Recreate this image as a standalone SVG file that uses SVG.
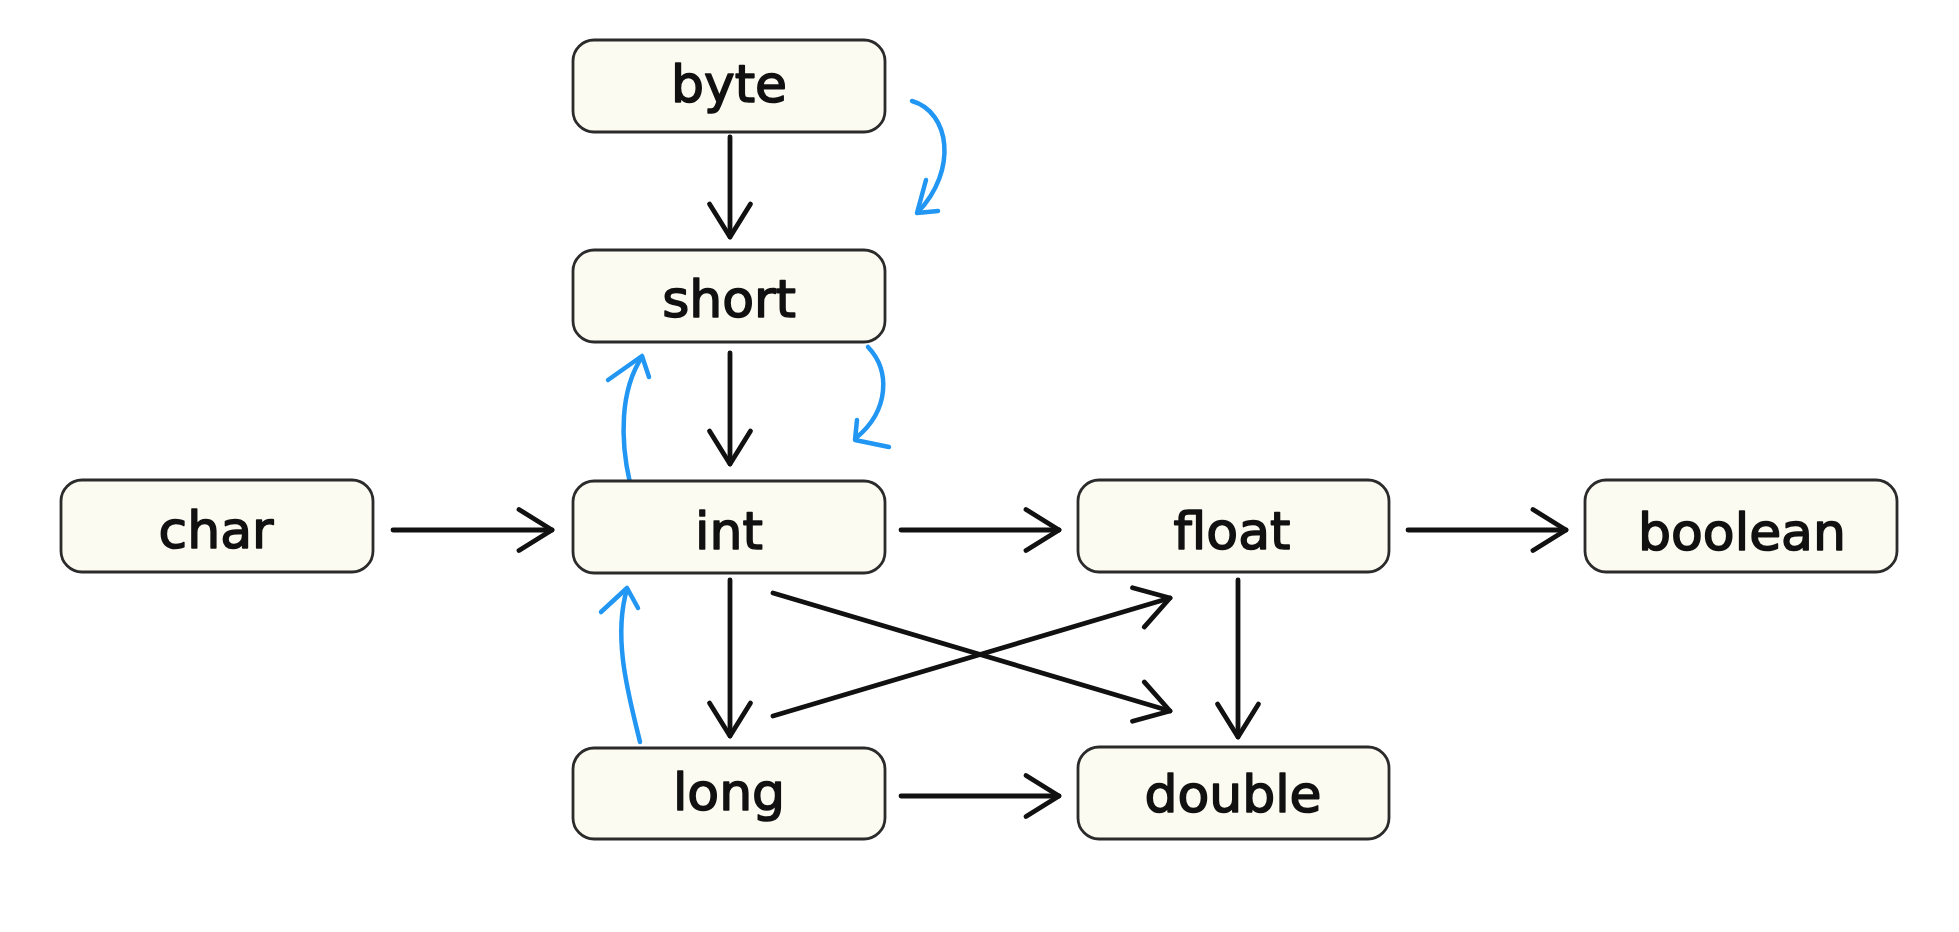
<svg xmlns="http://www.w3.org/2000/svg" width="1959" height="932" viewBox="0 0 1959 932">
  <style>
    .box { fill: #fcfbf1; stroke: #2b2b2b; stroke-width: 2.8; }
    .label { font-family: "DejaVu Sans", "Liberation Sans", sans-serif; font-size: 52px; fill: #111; stroke: #111; stroke-width: 1.6; stroke-linejoin: round; text-anchor: middle; }
    .edge { fill: none; stroke: #111; stroke-width: 4.8; stroke-linecap: round; marker-end: url(#arrow); }
    .hand { fill: none; stroke: #2196f3; stroke-width: 4.5; stroke-linecap: round; stroke-linejoin: round; }
  </style>
  <defs>
    <marker id="arrow" markerUnits="userSpaceOnUse" markerWidth="50" markerHeight="50" refX="0" refY="0" viewBox="-40 -25 50 50" orient="auto" overflow="visible">
      <path d="M -33,-20.5 L 0,0 L -33,20.5" fill="none" stroke="#111" stroke-width="4.8" stroke-linecap="round" stroke-linejoin="round"/>
    </marker>
  </defs>
  <rect width="1959" height="932" fill="#ffffff"/>

  <g id="connectors">
    <path class="edge" d="M 730,137 L 730,237"/>
    <path class="edge" d="M 730,353 L 730,464"/>
    <path class="edge" d="M 730,580 L 730,736"/>
    <path class="edge" d="M 1238,580 L 1238,737"/>
    <path class="edge" d="M 393,530 L 552,530"/>
    <path class="edge" d="M 901,530 L 1059,530"/>
    <path class="edge" d="M 1408,530 L 1566,530"/>
    <path class="edge" d="M 901,796 L 1059,796"/>
    <path class="edge" d="M 773,593 L 1170,711"/>
    <path class="edge" d="M 773,716 L 1170,598"/>
  </g>

  <g id="annotations">
    <path class="hand" d="M 912,101 C 950,112 958,170 918,212"/>
    <path class="hand" d="M 926,180 L 917,213 L 938,211"/>
    <path class="hand" d="M 868,347 C 890,370 890,410 856,438"/>
    <path class="hand" d="M 857,420 L 855,440 L 889,447"/>
    <path class="hand" d="M 630,483 C 620,440 620,390 642,357"/>
    <path class="hand" d="M 608,380 L 642,356 L 649,377"/>
    <path class="hand" d="M 640,742 C 630,700 612,640 627,589"/>
    <path class="hand" d="M 601,612 L 627,588 L 638,608"/>
  </g>

  <g id="node-byte">
    <rect class="box" x="573" y="40" width="312" height="92" rx="21"/>
    <text class="label" x="729" y="102">byte</text>
  </g>
  <g id="node-short">
    <rect class="box" x="573" y="250" width="312" height="92" rx="21"/>
    <text class="label" x="729" y="317">short</text>
  </g>
  <g id="node-int">
    <rect class="box" x="573" y="481" width="312" height="92" rx="21"/>
    <text class="label" x="729" y="549">int</text>
  </g>
  <g id="node-char">
    <rect class="box" x="61" y="480" width="312" height="92" rx="21"/>
    <text class="label" x="216" y="548">char</text>
  </g>
  <g id="node-float">
    <rect class="box" x="1078" y="480" width="311" height="92" rx="21"/>
    <text class="label" x="1232" y="549">float</text>
  </g>
  <g id="node-boolean">
    <rect class="box" x="1585" y="480" width="312" height="92" rx="21"/>
    <text class="label" x="1742" y="550">boolean</text>
  </g>
  <g id="node-long">
    <rect class="box" x="573" y="748" width="312" height="91" rx="21"/>
    <text class="label" x="729" y="810">long</text>
  </g>
  <g id="node-double">
    <rect class="box" x="1078" y="747" width="311" height="92" rx="21"/>
    <text class="label" x="1233" y="812">double</text>
  </g>
</svg>
